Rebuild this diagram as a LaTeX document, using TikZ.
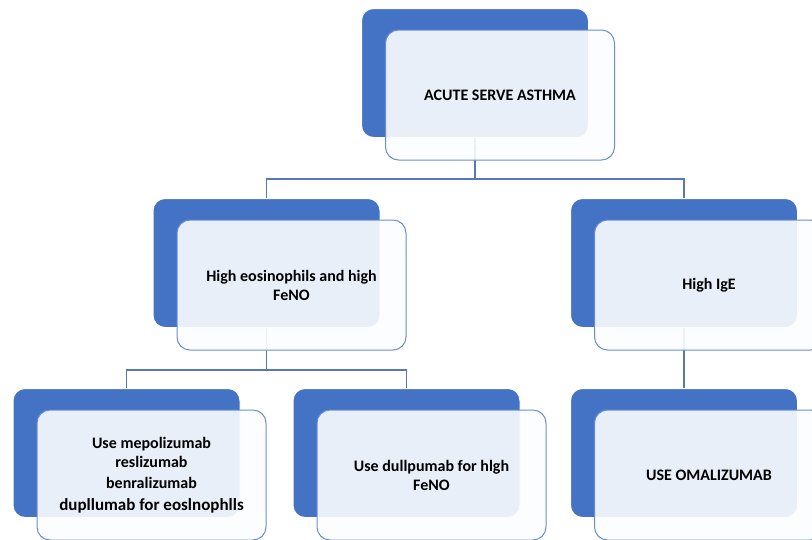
\documentclass[tikz,border=0pt]{standalone}
\usepackage{fontspec}
\setmainfont{Carlito}
\usepackage{xcolor}
\usepackage{tikz}
\usetikzlibrary{calc, positioning}
\definecolor{officeBlue}{HTML}{4472C4}
\definecolor{frontFill}{HTML}{FCFDFF}
\definecolor{linkBlue}{HTML}{5877B4}

\begin{document}
\begin{tikzpicture}[
    node distance=60pt and 52pt,
    back/.style={rectangle, draw=white, line width=1pt, rounded corners=12pt, minimum width=227pt, minimum height=129pt, fill=officeBlue},
    front/.style={rectangle, draw=officeBlue!80, line width=1pt, rounded corners=13pt, minimum width=229pt, minimum height=130pt, align=center, fill=frontFill, fill opacity=0.9, text opacity=1, font=\fontsize{16}{19}\selectfont\bfseries},
    link/.style={linkBlue, line width=1.4pt}
]
\clip (0,0) rectangle (812pt,-539pt);
\useasboundingbox (0,0) rectangle (812pt,-539pt);

% Back boxes
\node[back] (topback) at (475pt,-73pt) {};
\node[back, below=of topback, xshift=-208.5pt] (leftback) {};
\node[back, below=of topback, xshift=209pt] (rightback) {};
\node[back, below=of leftback, xshift=-140pt] (botleftback) {};
\node[back, right=of botleftback] (botmidback) {};
\node[back, below=of rightback] (botrightback) {};

% Edges
\draw[link] (topback.south) -- ++(0,-41pt) coordinate (topbus);
\draw[link] (topbus) -| (leftback.north);
\draw[link] (topbus) -| (rightback.north);
\draw[link] (leftback.south) -- ++(0,-42pt) coordinate (leftbus);
\draw[link] (leftbus) -| (botleftback.north);
\draw[link] (leftbus) -| (botmidback.north);
\draw[link] (rightback.south) -- (botrightback.north);

% Front boxes
\node[front] (topfront) at ([shift={(25pt,-22pt)}]topback) {ACUTE SERVE ASTHMA};
\node[front] (leftfront) at ([shift={(25pt,-22pt)}]leftback) {High eosinophils and high\\FeNO};
\node[front] (rightfront) at ([shift={(25pt,-22pt)}]rightback) {High IgE};
\node[front] (botleftfront) at ([shift={(25pt,-22pt)}]botleftback) {Use mepolizumab\\reslizumab\\[2pt]benralizumab\\[3pt]{\fontsize{17}{19}\selectfont dupllumab for eoslnophlls}};
\node[front] (botmidfront) at ([shift={(25pt,-22pt)}]botmidback) {Use dullpumab for hlgh\\FeNO};
\node[front] (botrightfront) at ([shift={(25pt,-22pt)}]botrightback) {USE OMALIZUMAB};

\end{tikzpicture}
\end{document}
